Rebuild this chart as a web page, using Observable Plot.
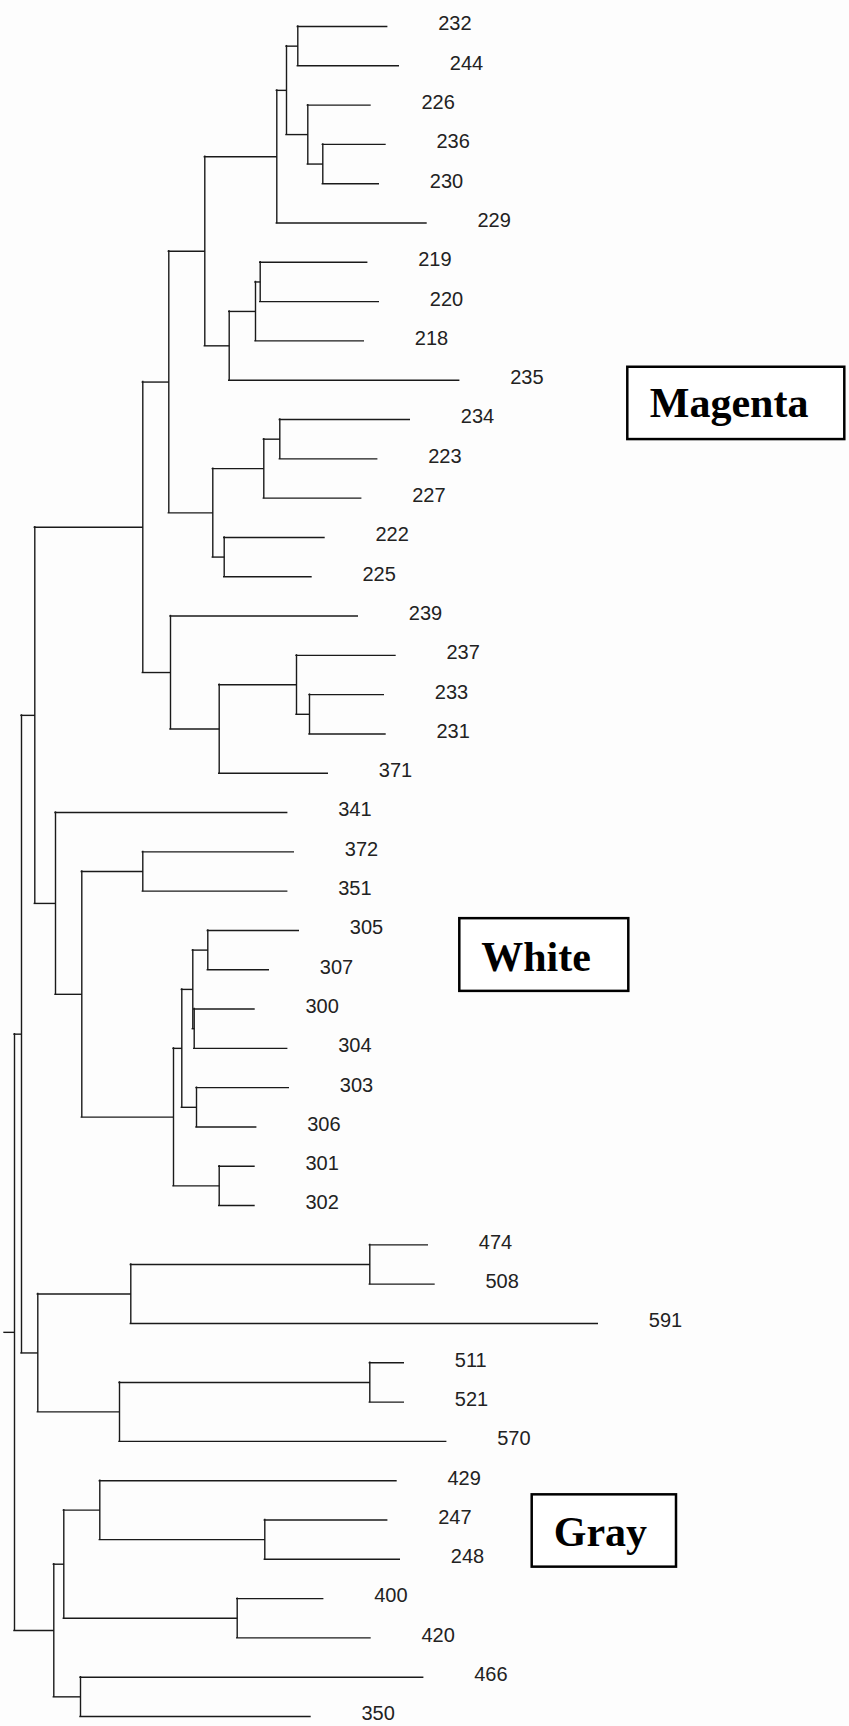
<!DOCTYPE html>
<html>
<head>
<meta charset="utf-8">
<script src="https://cdn.jsdelivr.net/npm/d3@7"></script>
<script src="https://cdn.jsdelivr.net/npm/@observablehq/plot@0.6"></script>
<style>
  html, body { margin: 0; padding: 0; background: #fdfdfd; }
  #chart svg { display: block; }
</style>
</head>
<body>
<div id="chart"></div>
<script>
// Leaf labels, top to bottom
const leafLabels = ["232","244","226","236","230","229","219","220","218","235",
  "234","223","227","222","225","239","237","233","231","371",
  "341","372","351","305","307","300","304","303","306","301","302",
  "474","508","591","511","521","570",
  "429","247","248","400","420","466","350"];

// Distance of each leaf tip from the root
const leafDist = [382.7,394.3,366,381,374.3,422,362.7,374.3,359.3,454.7,
  405.3,372.7,356.7,320,307,353.3,391,379.3,381,323.3,
  282.7,289.3,282.7,294.3,264.3,250,282.7,284.3,251.7,250,250,
  423.3,430,593.3,399.3,399.3,441.7,
  392,382.7,395.3,318.7,366,418.7,306];

// Internal nodes: [id, child A, child B, distance from root]
const merges = [
  ["m1","232","244",293.3],
  ["m2","236","230",318.3],
  ["m3","226","m2",303.3],
  ["m4","m1","m3",282],
  ["m5","m4","229",272.3],
  ["m6","219","220",255.7],
  ["m7","m6","218",251],
  ["m8","m7","235",224.7],
  ["m9","m5","m8",200.3],
  ["m10","234","223",275.3],
  ["m11","m10","227",259.3],
  ["m12","222","225",219.7],
  ["m13","m11","m12",208.3],
  ["m14","m9","m13",164.3],
  ["m15","233","231",305],
  ["m16","237","m15",292],
  ["m17","m16","371",214.7],
  ["m18","239","m17",166],
  ["m19","m14","m18",138.3],
  ["m20","305","307",203.3],
  ["m21","300","304",189.7],
  ["m22","m20","m21",188.3],
  ["m23","303","306",192],
  ["m24","m22","m23",177.3],
  ["m25","301","302",214.7],
  ["m26","m24","m25",169],
  ["m27","372","351",138.3],
  ["m28","m27","m26",77.3],
  ["m29","341","m28",51],
  ["m30","m19","m29",30.3],
  ["m31","474","508",365.3],
  ["m32","m31","591",126.3],
  ["m33","511","521",365.3],
  ["m34","m33","570",115],
  ["m35","m32","m34",33.3],
  ["m36","m30","m35",17],
  ["m37","247","248",260.3],
  ["m38","429","m37",95.3],
  ["m39","400","420",232.7],
  ["m40","m38","m39",59.3],
  ["m41","466","350",76],
  ["m42","m40","m41",49.3],
  ["m43","m36","m42",10]
];

// Group annotations
const groupNames = ["Magenta","White","Gray"];
const groupBox = [
  {x1:623.3, x2:840.3, y1:8.67, y2:10.51, tx:645.3, ty:9.60},
  {x1:455.3, x2:624.3, y1:22.70, y2:24.55, tx:476.7, ty:23.68},
  {x1:527.7, x2:672.0, y1:37.36, y2:39.20, tx:549.3, ty:38.33}
];

// Build tree geometry
const leaves = leafLabels.map((label, i) => ({id: label, label, dist: leafDist[i], y: i}));
const nodeMap = new Map(leaves.map(d => [d.id, d]));
const hsegs = [], vsegs = [];
let root = null;
for (const [id, a, b, dist] of merges) {
  const A = nodeMap.get(a), B = nodeMap.get(b);
  const node = {id, dist, y: (A.y + B.y) / 2};
  nodeMap.set(id, node);
  vsegs.push({x: dist, y1: A.y, y2: B.y});
  hsegs.push({y: A.y, x1: dist, x2: A.dist});
  hsegs.push({y: B.y, x1: dist, x2: B.dist});
  root = node;
}
hsegs.push({y: root.y, x1: 0, x2: root.dist});

const groups = groupNames.map((name, i) => ({name, ...groupBox[i]}));

const chart = Plot.plot({
  width: 849,
  height: 1726,
  marginLeft: 4, marginRight: 0, marginTop: 26, marginBottom: 10,
  style: {background: "#fdfdfd"},
  x: {domain: [0, 845], range: [4, 849], axis: null},
  y: {domain: [0, 43], range: [26, 1716], axis: null},
  marks: [
    Plot.ruleY(hsegs, {y: "y", x1: "x1", x2: "x2", stroke: "#1a1a1a", strokeWidth: 1.4, strokeLinecap: "square"}),
    Plot.ruleX(vsegs, {x: "x", y1: "y1", y2: "y2", stroke: "#1a1a1a", strokeWidth: 1.4, strokeLinecap: "square"}),
    Plot.text(leaves, {x: "dist", y: "y", text: "label", dx: 51, dy: -2.5, textAnchor: "start",
      fontSize: 20, fontFamily: "Liberation Sans, Arial, sans-serif", fill: "#222"}),
    Plot.rect(groups, {x1: "x1", x2: "x2", y1: "y1", y2: "y2", fill: "white", stroke: "black", strokeWidth: 2.5}),
    Plot.text(groups, {x: "tx", y: "ty", text: "name", textAnchor: "start", fontSize: 42, fontWeight: "bold",
      fontFamily: "Liberation Serif, Times New Roman, serif", fill: "black"})
  ]
});
document.getElementById("chart").appendChild(chart);
</script>
</body>
</html>
